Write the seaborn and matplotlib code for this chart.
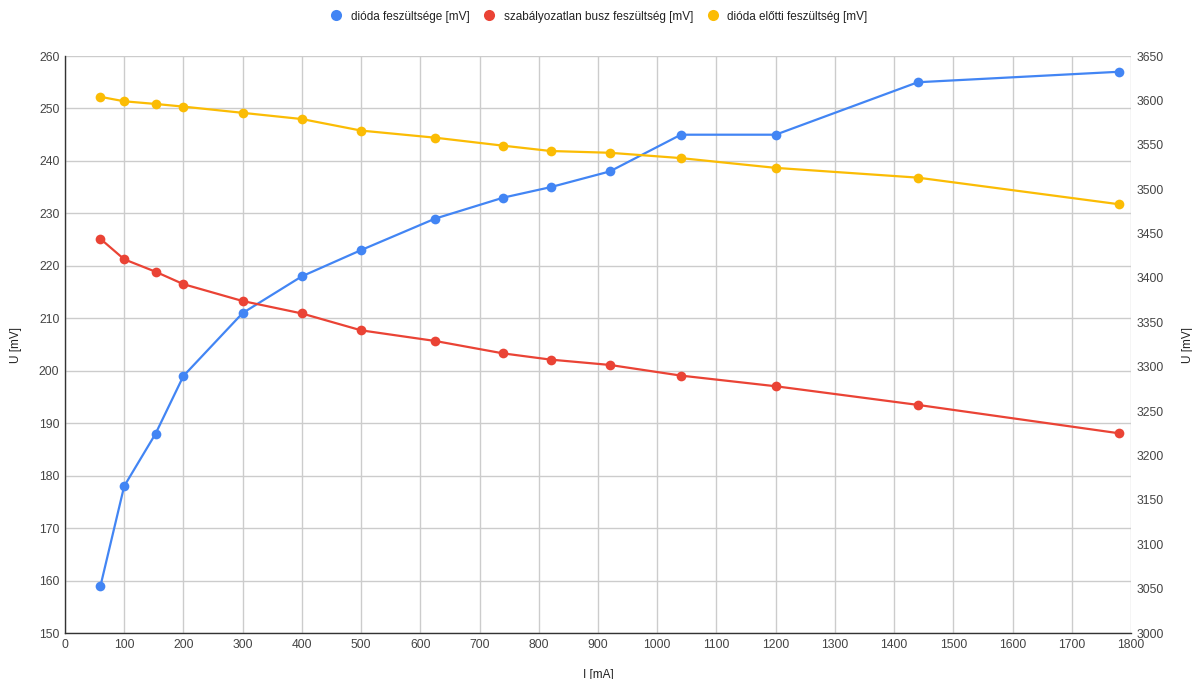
import matplotlib
matplotlib.use("Agg")
import matplotlib.pyplot as plt
from matplotlib.lines import Line2D
import seaborn as sns
import pandas as pd

current_ma = [60, 100, 153, 200, 300, 400, 500, 625, 740, 820, 920, 1040, 1200, 1440, 1780]
dioda_feszultsege = [159, 178, 188, 199, 211, 218, 223, 229, 233, 235, 238, 245, 245, 255, 257]
busz_feszultseg = [3444, 3421, 3407, 3393, 3374, 3360, 3341, 3329, 3315, 3308, 3302, 3290, 3278, 3257, 3225]
eloetti_feszultseg = [3604, 3599, 3596, 3593, 3586, 3579, 3566, 3558, 3549, 3543, 3541, 3535, 3524, 3513, 3483]

series_names = ["dióda feszültsége [mV]", "szabályozatlan busz feszültség [mV]", "dióda előtti feszültség [mV]"]
colors = ["#4285F4", "#EA4335", "#FBBC04"]

sns.set_style("white")
plt.rcParams['font.family'] = ['Liberation Sans', 'DejaVu Sans']

df = pd.DataFrame({"I": current_ma, "d": dioda_feszultsege, "b": busz_feszultseg, "e": eloetti_feszultseg})

fig = plt.figure(figsize=(11.92, 6.79), dpi=100)
ax = fig.add_axes([0.0545, 0.0677, 0.8943, 0.8498])
ax2 = ax.twinx()

kw = dict(marker="o", markersize=7, markeredgewidth=0, linewidth=1.6)
sns.lineplot(data=df, x="I", y="d", ax=ax, color=colors[0], **kw)
sns.lineplot(data=df, x="I", y="b", ax=ax2, color=colors[1], **kw)
sns.lineplot(data=df, x="I", y="e", ax=ax2, color=colors[2], **kw)

ax.set_xlim(0, 1800)
ax.set_ylim(150, 260)
ax2.set_ylim(3000, 3650)
ax.set_xticks(range(0, 1801, 100))
ax.set_yticks(range(150, 261, 10))
ax2.set_yticks(range(3000, 3651, 50))
ax.grid(True, color="#cccccc", linewidth=1)
ax2.grid(False)
ax.set_axisbelow(True)

tick_color = "#444444"
for a in (ax, ax2):
    a.tick_params(axis="both", length=0, labelsize=8.7, labelcolor=tick_color, pad=4)
    for s in a.spines.values():
        s.set_visible(False)
ax.spines["left"].set_visible(True)
ax.spines["left"].set_color("#333333")
ax.spines["bottom"].set_visible(True)
ax.spines["bottom"].set_color("#333333")
ax.spines["left"].set_linewidth(1)
ax.spines["bottom"].set_linewidth(1)

ax.set_xlabel("I [mA]", fontsize=8.5, color="#222222", labelpad=13)
ax.set_ylabel("U [mV]", fontsize=8.5, color="#222222", labelpad=12)
ax2.set_ylabel("U [mV]", fontsize=8.5, color="#222222", labelpad=13)

handles = [Line2D([0], [0], marker="o", linestyle="none", markersize=8, markeredgewidth=0, color=c) for c in colors]
fig.legend(handles, series_names, loc="upper center", bbox_to_anchor=(0.5, 1.0), ncol=3,
           frameon=False, fontsize=8.5, handletextpad=0.2, columnspacing=0.7,
           labelcolor="#222222")

fig.savefig("out.png", dpi=100)
